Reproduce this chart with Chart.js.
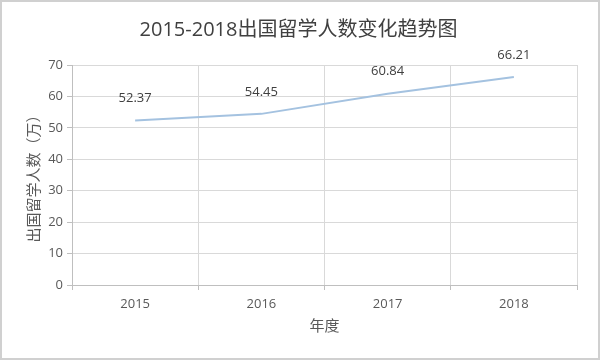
<!DOCTYPE html>
<html>
<head>
<meta charset="utf-8">
<script src="https://cdn.jsdelivr.net/npm/chart.js@4"></script>
<style>
  body { margin: 0; background: #fff; }
  #wrap { width: 600px; height: 360px; }
</style>
</head>
<body>
<div id="wrap"><canvas id="myChart" width="600" height="360"></canvas></div>
<script>
// datos del gráfico
const anios = ["2015", "2016", "2017", "2018"]
const personas = [52.37, 54.45, 60.84, 66.21]
const etiquetas = ["52.37", "54.45", "60.84", "66.21"]

const gris = "#595959"
const cjk = "'Noto Sans CJK SC', 'Noto Sans', sans-serif"

// marco y fondo
const marco = {
    id: "marco",
    beforeDraw(chart) {
        const ctx = chart.ctx
        ctx.save()
        ctx.fillStyle = "#fff"
        ctx.fillRect(0, 0, chart.width, chart.height)
        ctx.strokeStyle = "#d0d0d0"
        ctx.lineWidth = 2
        ctx.strokeRect(1, 1, chart.width - 2, chart.height - 2)
        ctx.restore()
    }
}

// etiquetas de datos encima de cada punto
const etiquetasDatos = {
    id: "etiquetasDatos",
    afterDatasetsDraw(chart) {
        const ctx = chart.ctx
        const meta = chart.getDatasetMeta(0)
        ctx.save()
        ctx.fillStyle = "#404040"
        ctx.font = "13px 'Open Sans', sans-serif"
        ctx.textAlign = "center"
        ctx.textBaseline = "middle"
        meta.data.forEach((p, i) => {
            ctx.fillText(etiquetas[i], p.x, p.y - 22)
        })
        ctx.restore()
    }
}

new Chart(document.getElementById("myChart"), {
    type: "line",
    data: {
        labels: anios,
        datasets: [{
            data: personas,
            borderColor: "#a4c2e0",
            borderWidth: 2,
            pointRadius: 0,
            tension: 0
        }]
    },
    options: {
        responsive: false,
        animation: false,
        layout: { padding: { left: 20, right: 23, top: 0, bottom: 22 } },
        plugins: {
            legend: { display: false },
            tooltip: { enabled: false },
            title: {
                display: true,
                text: "2015-2018出国留学人数变化趋势图",
                color: "#404040",
                font: { size: 20, family: "'Open Sans', 'Noto Sans CJK SC', sans-serif", weight: "normal" },
                padding: { top: 18, bottom: 23 }
            }
        },
        scales: {
            x: {
                offset: true,
                grid: { offset: true, color: "#d9d9d9", tickLength: 5, tickColor: "#bfbfbf" },
                border: { color: "#bfbfbf" },
                ticks: { color: gris, font: { size: 13, family: "'Open Sans', sans-serif" }, padding: 6 },
                title: { display: true, text: "年度", color: gris, font: { size: 15, family: cjk }, padding: { top: 4 } },
                afterFit(scale) { scale.height = 53 }
            },
            y: {
                min: 0,
                max: 70,
                ticks: { stepSize: 10, color: gris, font: { size: 13, family: "'Open Sans', sans-serif" }, padding: 4 },
                grid: { color: "#d9d9d9", tickLength: 5, tickColor: "#bfbfbf" },
                border: { color: "#bfbfbf" },
                title: { display: true, text: "出国留学人数（万）", color: gris, font: { size: 15, family: cjk }, padding: { bottom: 4 } },
                afterFit(scale) { scale.width = 52 }
            }
        }
    },
    plugins: [marco, etiquetasDatos]
})
</script>
</body>
</html>
